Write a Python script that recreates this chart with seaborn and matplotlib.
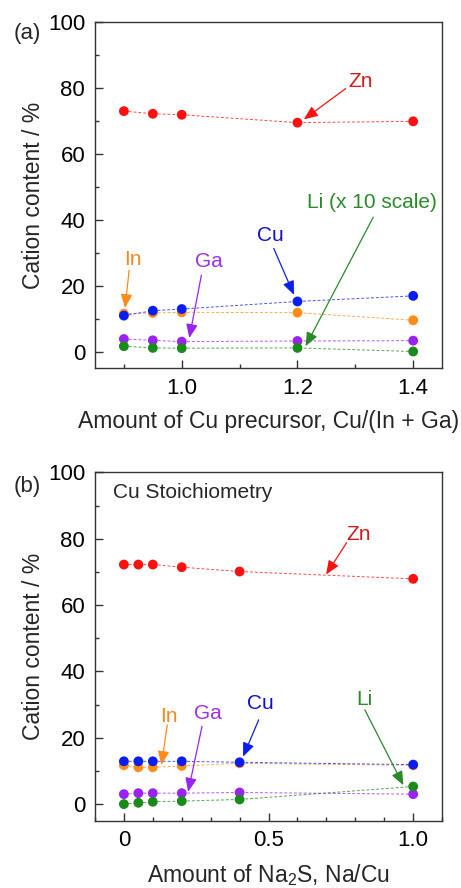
import numpy as np
import pandas as pd
import seaborn as sns
import matplotlib.pyplot as plt
from matplotlib.ticker import MultipleLocator

sns.set_style('ticks')
plt.rcParams['font.family'] = ['Liberation Sans', 'DejaVu Sans']
plt.rcParams['mathtext.fontset'] = 'custom'
plt.rcParams['mathtext.rm'] = 'Liberation Sans'

# (a) Cu precursor series
cu_ratio = [0.9, 0.95, 1.0, 1.2, 1.4]
zn_a = [73.0, 72.2, 71.9, 69.5, 69.9]
cu_a = [10.9, 12.4, 12.9, 15.2, 16.9]
in_a = [11.5, 11.7, 11.9, 11.8, 9.5]
ga_a = [3.8, 3.4, 3.0, 3.2, 3.3]
li_a = [1.6, 1.1, 1.0, 1.1, 0.0]

# (b) Na2S series
na_ratio = [0.0, 0.05, 0.1, 0.2, 0.4, 1.0]
zn_b = [72.2, 72.2, 72.2, 71.4, 70.1, 67.9]
cu_b = [12.9, 12.9, 12.9, 12.9, 12.6, 11.9]
in_b = [11.7, 11.1, 11.1, 11.5, 12.3, 11.7]
ga_b = [3.0, 3.3, 3.3, 3.3, 3.5, 3.0]
li_b = [0.0, 0.4, 0.7, 0.9, 1.4, 5.3]

colors = {'Zn': '#ff1010', 'Cu': '#0a1ef0', 'In': '#ff8c1a', 'Ga': '#9a22f5', 'Li': '#1a8a1a'}
text_colors = {'Zn': '#d41a1a', 'Cu': '#1010c8', 'In': '#f08a20', 'Ga': '#9a30f0', 'Li': '#2a8a2a'}

fig = plt.figure(figsize=(4.61, 8.88), dpi=100)
ax_a = fig.add_axes([0.206, 0.5856, 0.753, 0.3894])
ax_b = fig.add_axes([0.206, 0.0758, 0.753, 0.3923])


def draw(ax, x, series):
    for name, vals in series:
        df = pd.DataFrame({'x': x, 'y': vals})
        sns.lineplot(data=df, x='x', y='y', ax=ax, color=colors[name], lw=0.7,
                     dashes=False, linestyle=(0, (3, 2)), alpha=0.75)
        sns.scatterplot(data=df, x='x', y='y', ax=ax, color=colors[name], s=50,
                        edgecolor='none', zorder=3)


def style(ax):
    ax.set_ylim(-5, 100)
    ax.yaxis.set_major_locator(MultipleLocator(20))
    ax.yaxis.set_minor_locator(MultipleLocator(10))
    ax.tick_params(which='major', direction='in', length=6, width=1, labelsize=16,
                   pad=7, colors='#333333', labelcolor='black')
    ax.tick_params(which='minor', direction='in', length=3, width=1, colors='#333333')
    for sp in ax.spines.values():
        sp.set_linewidth(1)
        sp.set_color('#333333')
    ax.set_ylabel('Cation content / %', fontsize=16.5, labelpad=2)


def note(ax, name, text, xy, xytext, textpos):
    ax.annotate('', xy=xy, xytext=xytext,
                arrowprops=dict(arrowstyle='-|>,head_length=0.6,head_width=0.25',
                                color=colors[name] if name != 'Li' else '#2a8a2a',
                                lw=0.9, mutation_scale=14, shrinkA=0, shrinkB=0))
    ax.text(textpos[0], textpos[1], text, color=text_colors[name], fontsize=15,
            ha='center', va='center')


draw(ax_a, cu_ratio, [('Zn', zn_a), ('In', in_a), ('Cu', cu_a), ('Ga', ga_a), ('Li', li_a)])
style(ax_a)
ax_a.set_xlim(0.85, 1.45)
ax_a.xaxis.set_minor_locator(MultipleLocator(0.1))
ax_a.set_xticks([1.0, 1.2, 1.4])
ax_a.set_xticklabels(['1.0', '1.2', '1.4'])
ax_a.set_xlabel('Amount of Cu precursor, Cu/(In + Ga)', fontsize=16.5, labelpad=8)
note(ax_a, 'Zn', 'Zn', (1.211, 70.5), (1.283, 79.8), (1.309, 82.0))
note(ax_a, 'Li', 'Li (x 10 scale)', (1.214, 1.6), (1.331, 40.8), (1.329, 45.3))
note(ax_a, 'Cu', 'Cu', (1.194, 17.2), (1.159, 31.3), (1.153, 35.3))
note(ax_a, 'In', 'In', (0.902, 13.2), (0.909, 24.7), (0.915, 27.8))
note(ax_a, 'Ga', 'Ga', (1.013, 4.1), (1.034, 23.2), (1.047, 27.2))
fig.text(0.03, 0.962, '(a)', fontsize=16, ha='left', va='center')

draw(ax_b, na_ratio, [('Zn', zn_b), ('In', in_b), ('Cu', cu_b), ('Ga', ga_b), ('Li', li_b)])
style(ax_b)
ax_b.set_xlim(-0.1, 1.1)
ax_b.xaxis.set_minor_locator(MultipleLocator(0.1))
ax_b.set_xticks([0.0, 0.5, 1.0])
ax_b.set_xticklabels(['0', '0.5', '1.0'])
ax_b.set_xlabel('Amount of Na$_2$S, Na/Cu', fontsize=16.5, labelpad=8)
ax_b.text(-0.037, 93.9, 'Cu Stoichiometry', fontsize=15, ha='left', va='center')
note(ax_b, 'Zn', 'Zn', (0.699, 69.2), (0.770, 78.8), (0.81, 81.3))
note(ax_b, 'Cu', 'Cu', (0.412, 14.3), (0.466, 25.4), (0.471, 30.4))
note(ax_b, 'In', 'In', (0.13, 11.8), (0.15, 23.9), (0.155, 26.4))
note(ax_b, 'Ga', 'Ga', (0.222, 3.7), (0.27, 23.4), (0.291, 27.4))
note(ax_b, 'Li', 'Li', (0.966, 5.7), (0.833, 28.4), (0.831, 31.4))
fig.text(0.03, 0.452, '(b)', fontsize=16, ha='left', va='center')

fig.savefig('out.png', dpi=100)
